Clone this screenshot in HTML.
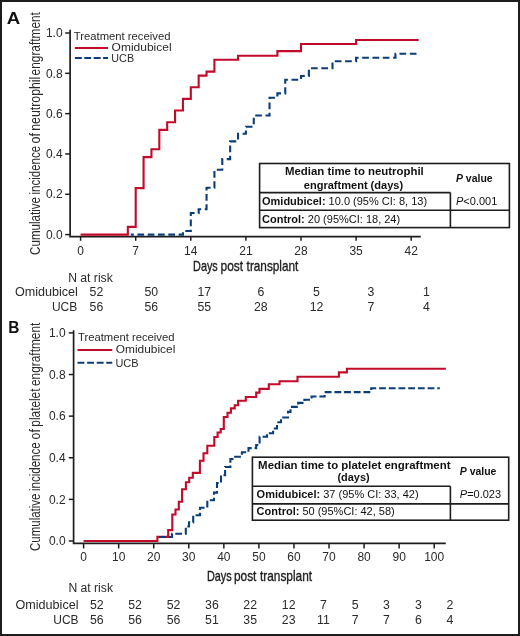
<!DOCTYPE html>
<html><head><meta charset="utf-8"><style>
html,body{margin:0;padding:0;background:#fff;}
body{width:520px;height:636px;overflow:hidden;font-family:"Liberation Sans",sans-serif;}
svg{display:block;will-change:transform;}
</style></head><body>
<svg width="520" height="636" viewBox="0 0 520 636" font-family="Liberation Sans, sans-serif">
<rect x="0" y="0" width="520" height="636" fill="#fff"/>
<rect x="1" y="1" width="518" height="634" fill="none" stroke="#1c1c1c" stroke-width="2"/>
<text x="6.84" y="23.8" font-size="16.5" font-weight="bold" textLength="13.46" lengthAdjust="spacingAndGlyphs" fill="#111">A</text>
<text transform="translate(39.9,254.3) rotate(-90)" x="-0.59" y="0" font-size="15.2" textLength="57.9" lengthAdjust="spacingAndGlyphs" fill="#2a2a2a">Cumulative</text>
<text transform="translate(39.9,193.7) rotate(-90)" x="-0.77" y="0" font-size="15.2" textLength="48.48" lengthAdjust="spacingAndGlyphs" fill="#2a2a2a">incidence</text>
<text transform="translate(39.9,142.9) rotate(-90)" x="-0.52" y="0" font-size="15.2" textLength="10.41" lengthAdjust="spacingAndGlyphs" fill="#2a2a2a">of</text>
<text transform="translate(39.9,130.0) rotate(-90)" x="-0.82" y="0" font-size="15.2" textLength="54.14" lengthAdjust="spacingAndGlyphs" fill="#2a2a2a">neutrophil</text>
<text transform="translate(39.9,74.9) rotate(-90)" x="-0.50" y="0" font-size="15.2" textLength="63.29" lengthAdjust="spacingAndGlyphs" fill="#2a2a2a">engraftment</text>
<path d="M70.1,29.8V236.6H420.8" fill="none" stroke="#1f1c1d" stroke-width="1.7"/>
<path d="M65.2,33.00H70.1" stroke="#1f1c1d" stroke-width="1.5"/>
<text x="62.6" y="37.2" font-size="12" text-anchor="end" fill="#2a2a2a">1.0</text>
<path d="M65.2,73.32H70.1" stroke="#1f1c1d" stroke-width="1.5"/>
<text x="62.6" y="77.52" font-size="12" text-anchor="end" fill="#2a2a2a">0.8</text>
<path d="M65.2,113.64H70.1" stroke="#1f1c1d" stroke-width="1.5"/>
<text x="62.6" y="117.84" font-size="12" text-anchor="end" fill="#2a2a2a">0.6</text>
<path d="M65.2,153.96H70.1" stroke="#1f1c1d" stroke-width="1.5"/>
<text x="62.6" y="158.16" font-size="12" text-anchor="end" fill="#2a2a2a">0.4</text>
<path d="M65.2,194.28H70.1" stroke="#1f1c1d" stroke-width="1.5"/>
<text x="62.6" y="198.48" font-size="12" text-anchor="end" fill="#2a2a2a">0.2</text>
<path d="M65.2,234.60H70.1" stroke="#1f1c1d" stroke-width="1.5"/>
<text x="62.6" y="238.8" font-size="12" text-anchor="end" fill="#2a2a2a">0.0</text>
<path d="M80.60,236.6V240.8" stroke="#1f1c1d" stroke-width="1.5"/>
<text x="80.6" y="254.6" font-size="12" text-anchor="middle" fill="#2a2a2a">0</text>
<path d="M135.70,236.6V240.8" stroke="#1f1c1d" stroke-width="1.5"/>
<text x="135.7" y="254.6" font-size="12" text-anchor="middle" fill="#2a2a2a">7</text>
<path d="M190.80,236.6V240.8" stroke="#1f1c1d" stroke-width="1.5"/>
<text x="190.8" y="254.6" font-size="12" text-anchor="middle" fill="#2a2a2a">14</text>
<path d="M245.90,236.6V240.8" stroke="#1f1c1d" stroke-width="1.5"/>
<text x="245.9" y="254.6" font-size="12" text-anchor="middle" fill="#2a2a2a">21</text>
<path d="M301.00,236.6V240.8" stroke="#1f1c1d" stroke-width="1.5"/>
<text x="301.0" y="254.6" font-size="12" text-anchor="middle" fill="#2a2a2a">28</text>
<path d="M356.10,236.6V240.8" stroke="#1f1c1d" stroke-width="1.5"/>
<text x="356.1" y="254.6" font-size="12" text-anchor="middle" fill="#2a2a2a">35</text>
<path d="M411.20,236.6V240.8" stroke="#1f1c1d" stroke-width="1.5"/>
<text x="411.2" y="254.6" font-size="12" text-anchor="middle" fill="#2a2a2a">42</text>
<text x="193.11" y="271.4" font-size="14.5" textLength="24.68" lengthAdjust="spacingAndGlyphs" fill="#1e1e1e" stroke="#1e1e1e" stroke-width="0.35">Days</text>
<text x="220.53" y="271.4" font-size="14.5" textLength="22.56" lengthAdjust="spacingAndGlyphs" fill="#1e1e1e" stroke="#1e1e1e" stroke-width="0.35">post</text>
<text x="246.62" y="271.4" font-size="14.5" textLength="51.76" lengthAdjust="spacingAndGlyphs" fill="#1e1e1e" stroke="#1e1e1e" stroke-width="0.35">transplant</text>
<path d="M130.80,234.60H182.93V231.00H190.80V213.00H198.67V209.30H206.54V187.80H214.41V169.80H222.29V159.10H230.16V141.40H238.03V133.80H245.90V126.70H253.77V115.50H269.51V97.80H277.39V93.40H285.26V79.70H301.00V76.00H308.87V68.30H332.49V61.20H356.10V57.70H395.46V53.80H418.80" fill="none" stroke="#0b3d78" stroke-width="2.1" stroke-dasharray="6.7 3.6" stroke-dashoffset="3.7"/>
<path d="M80.60,234.60H127.83V226.85H135.70V188.10H143.57V157.10H151.44V149.30H159.31V129.90H167.19V122.20H175.06V110.50H182.93V98.90H190.80V87.30H198.67V75.60H206.54V71.60H214.41V59.80H238.03V55.70H277.39V51.10H301.00V44.00H356.10V40.00H418.70" fill="none" stroke="#c20a2a" stroke-width="2.1"/>
<text x="73.75" y="40.1" font-size="11.3" textLength="96.68" lengthAdjust="spacingAndGlyphs" fill="#2a2a2a">Treatment received</text>
<path d="M74.9,48H108" stroke="#c20a2a" stroke-width="2.1"/>
<text x="111.63" y="50.9" font-size="11.3" textLength="59.97" lengthAdjust="spacingAndGlyphs" fill="#2a2a2a">Omidubicel</text>
<path d="M74.9,58H108" stroke="#0b3d78" stroke-width="2.1" stroke-dasharray="6.9 2.5"/>
<text x="111.37" y="61.6" font-size="11.3" textLength="22.7" lengthAdjust="spacingAndGlyphs" fill="#2a2a2a">UCB</text>
<g fill="none" stroke="#1f1c1d" stroke-width="1.6">
<rect x="259.6" y="163.5" width="249.8" height="64.1"/>
<path d="M259.6,192.6H450.4M259.6,210.3H509.4M450.4,192.6V227.6"/>
</g>
<text x="285.04" y="175" font-size="11" font-weight="bold" textLength="138.77" lengthAdjust="spacingAndGlyphs" fill="#111">Median time to neutrophil</text>
<text x="303.77" y="188.9" font-size="11" font-weight="bold" textLength="99.38" lengthAdjust="spacingAndGlyphs" fill="#111">engraftment (days)</text>
<text x="262" y="205.3" font-size="11" fill="#111"><tspan font-weight="bold">Omidubicel:</tspan> 10.0 (95% CI: 8, 13)</text>
<text x="262" y="222.6" font-size="11" fill="#111"><tspan font-weight="bold">Control:</tspan> 20 (95%CI: 18, 24)</text>
<text x="456" y="182.2" font-size="11" fill="#111" font-weight="bold" textLength="36.6" lengthAdjust="spacingAndGlyphs"><tspan font-style="italic">P</tspan> value</text>
<text x="456" y="204.7" font-size="11" fill="#111"><tspan font-style="italic">P</tspan>&lt;0.001</text>
<text x="68.2" y="281.6" font-size="12" textLength="44.6" lengthAdjust="spacingAndGlyphs" fill="#2a2a2a">N at risk</text>
<text x="14.9" y="296.3" font-size="12" textLength="63" lengthAdjust="spacingAndGlyphs" fill="#2a2a2a">Omidubicel</text>
<text x="77.3" y="311" font-size="12" text-anchor="end" fill="#2a2a2a">UCB</text>
<text x="96.4" y="296.4" font-size="12.3" text-anchor="middle" fill="#2a2a2a">52</text>
<text x="96.4" y="311" font-size="12.3" text-anchor="middle" fill="#2a2a2a">56</text>
<text x="151.3" y="296.4" font-size="12.3" text-anchor="middle" fill="#2a2a2a">50</text>
<text x="151.3" y="311" font-size="12.3" text-anchor="middle" fill="#2a2a2a">56</text>
<text x="204.3" y="296.4" font-size="12.3" text-anchor="middle" fill="#2a2a2a">17</text>
<text x="204.3" y="311" font-size="12.3" text-anchor="middle" fill="#2a2a2a">55</text>
<text x="260.8" y="296.4" font-size="12.3" text-anchor="middle" fill="#2a2a2a">6</text>
<text x="260.8" y="311" font-size="12.3" text-anchor="middle" fill="#2a2a2a">28</text>
<text x="316.5" y="296.4" font-size="12.3" text-anchor="middle" fill="#2a2a2a">5</text>
<text x="316.5" y="311" font-size="12.3" text-anchor="middle" fill="#2a2a2a">12</text>
<text x="370.8" y="296.4" font-size="12.3" text-anchor="middle" fill="#2a2a2a">3</text>
<text x="370.8" y="311" font-size="12.3" text-anchor="middle" fill="#2a2a2a">7</text>
<text x="426.4" y="296.4" font-size="12.3" text-anchor="middle" fill="#2a2a2a">1</text>
<text x="426.4" y="311" font-size="12.3" text-anchor="middle" fill="#2a2a2a">4</text>
<text x="8.37" y="333.0" font-size="16.5" font-weight="bold" textLength="11.13" lengthAdjust="spacingAndGlyphs" fill="#111">B</text>
<text transform="translate(39.8,550.5) rotate(-90)" x="-0.58" y="0" font-size="15.2" textLength="57.6" lengthAdjust="spacingAndGlyphs" fill="#2a2a2a">Cumulative</text>
<text transform="translate(39.8,490.3) rotate(-90)" x="-0.77" y="0" font-size="15.2" textLength="48.68" lengthAdjust="spacingAndGlyphs" fill="#2a2a2a">incidence</text>
<text transform="translate(39.8,438.9) rotate(-90)" x="-0.51" y="0" font-size="15.2" textLength="10.2" lengthAdjust="spacingAndGlyphs" fill="#2a2a2a">of</text>
<text transform="translate(39.8,425.9) rotate(-90)" x="-0.76" y="0" font-size="15.2" textLength="38.15" lengthAdjust="spacingAndGlyphs" fill="#2a2a2a">platelet</text>
<text transform="translate(39.8,385.6) rotate(-90)" x="-0.51" y="0" font-size="15.2" textLength="63.49" lengthAdjust="spacingAndGlyphs" fill="#2a2a2a">engraftment</text>
<path d="M73.6,330.3V543.4H445.8" fill="none" stroke="#1f1c1d" stroke-width="1.7"/>
<path d="M68.8,332.90H73.6" stroke="#1f1c1d" stroke-width="1.5"/>
<text x="65.6" y="337.1" font-size="12" text-anchor="end" fill="#2a2a2a">1.0</text>
<path d="M68.8,374.52H73.6" stroke="#1f1c1d" stroke-width="1.5"/>
<text x="65.6" y="378.72" font-size="12" text-anchor="end" fill="#2a2a2a">0.8</text>
<path d="M68.8,416.14H73.6" stroke="#1f1c1d" stroke-width="1.5"/>
<text x="65.6" y="420.34" font-size="12" text-anchor="end" fill="#2a2a2a">0.6</text>
<path d="M68.8,457.76H73.6" stroke="#1f1c1d" stroke-width="1.5"/>
<text x="65.6" y="461.96" font-size="12" text-anchor="end" fill="#2a2a2a">0.4</text>
<path d="M68.8,499.38H73.6" stroke="#1f1c1d" stroke-width="1.5"/>
<text x="65.6" y="503.58" font-size="12" text-anchor="end" fill="#2a2a2a">0.2</text>
<path d="M68.8,541.00H73.6" stroke="#1f1c1d" stroke-width="1.5"/>
<text x="65.6" y="545.2" font-size="12" text-anchor="end" fill="#2a2a2a">0.0</text>
<path d="M83.60,543.4V548.5" stroke="#1f1c1d" stroke-width="1.5"/>
<text x="83.6" y="561" font-size="12" text-anchor="middle" fill="#2a2a2a">0</text>
<path d="M118.66,543.4V548.5" stroke="#1f1c1d" stroke-width="1.5"/>
<text x="118.66" y="561" font-size="12" text-anchor="middle" fill="#2a2a2a">10</text>
<path d="M153.72,543.4V548.5" stroke="#1f1c1d" stroke-width="1.5"/>
<text x="153.72" y="561" font-size="12" text-anchor="middle" fill="#2a2a2a">20</text>
<path d="M188.78,543.4V548.5" stroke="#1f1c1d" stroke-width="1.5"/>
<text x="188.78" y="561" font-size="12" text-anchor="middle" fill="#2a2a2a">30</text>
<path d="M223.84,543.4V548.5" stroke="#1f1c1d" stroke-width="1.5"/>
<text x="223.84" y="561" font-size="12" text-anchor="middle" fill="#2a2a2a">40</text>
<path d="M258.90,543.4V548.5" stroke="#1f1c1d" stroke-width="1.5"/>
<text x="258.9" y="561" font-size="12" text-anchor="middle" fill="#2a2a2a">50</text>
<path d="M293.96,543.4V548.5" stroke="#1f1c1d" stroke-width="1.5"/>
<text x="293.96" y="561" font-size="12" text-anchor="middle" fill="#2a2a2a">60</text>
<path d="M329.02,543.4V548.5" stroke="#1f1c1d" stroke-width="1.5"/>
<text x="329.02" y="561" font-size="12" text-anchor="middle" fill="#2a2a2a">70</text>
<path d="M364.08,543.4V548.5" stroke="#1f1c1d" stroke-width="1.5"/>
<text x="364.08" y="561" font-size="12" text-anchor="middle" fill="#2a2a2a">80</text>
<path d="M399.14,543.4V548.5" stroke="#1f1c1d" stroke-width="1.5"/>
<text x="399.14" y="561" font-size="12" text-anchor="middle" fill="#2a2a2a">90</text>
<path d="M434.20,543.4V548.5" stroke="#1f1c1d" stroke-width="1.5"/>
<text x="434.2" y="561" font-size="12" text-anchor="middle" fill="#2a2a2a">100</text>
<text x="206.91" y="581" font-size="14.5" textLength="24.79" lengthAdjust="spacingAndGlyphs" fill="#1e1e1e" stroke="#1e1e1e" stroke-width="0.35">Days</text>
<text x="233.93" y="581" font-size="14.5" textLength="22.45" lengthAdjust="spacingAndGlyphs" fill="#1e1e1e" stroke="#1e1e1e" stroke-width="0.35">post</text>
<text x="259.92" y="581" font-size="14.5" textLength="52.17" lengthAdjust="spacingAndGlyphs" fill="#1e1e1e" stroke="#1e1e1e" stroke-width="0.35">transplant</text>
<path d="M83.60,541.00H157.40V536.90H168.20V530.10H172.30V514.50H175.50V509.50H178.80V501.70H182.10V489.20H185.90V482.20H189.20V477.70H192.80V472.90H199.90V460.80H203.50V453.20H207.30V445.70H214.30V437.00H217.60V432.50H220.70V429.00H223.80V417.00H227.50V412.70H230.90V408.40H234.70V405.20H238.10V400.70H245.80V397.00H256.20V392.60H259.50V388.90H268.80V384.30H279.50V381.20H297.50V376.70H338.90V372.40H346.90V368.70H445.90" fill="none" stroke="#c20a2a" stroke-width="2.1"/>
<path d="M157.40,537.00H172.00V533.70H185.80V526.40H189.00V522.40H193.20V515.20H200.00V507.70H207.30V500.30H214.00V492.60H217.00V483.00H221.00V475.20H225.10V467.00H230.40V459.00H233.90V456.70H241.90V452.30H248.50V448.10H256.20V445.00H259.60V436.70H267.00V433.20H273.10V428.50H277.00V422.30H281.00V417.50H288.00V411.90H290.50V406.90H298.20V402.90H304.40V399.70H311.60V396.50H324.60V392.10H371.20V388.30H439.80" fill="none" stroke="#0b3d78" stroke-width="2.1" stroke-dasharray="6.8 2.9" stroke-dashoffset="7.9"/>
<text x="77.95" y="340.8" font-size="11.3" textLength="96.57" lengthAdjust="spacingAndGlyphs" fill="#2a2a2a">Treatment received</text>
<path d="M77.5,350H112.3" stroke="#c20a2a" stroke-width="2.1"/>
<text x="115.74" y="353.4" font-size="11.3" textLength="59.56" lengthAdjust="spacingAndGlyphs" fill="#2a2a2a">Omidubicel</text>
<path d="M77.5,362.8H112.3" stroke="#0b3d78" stroke-width="2.1" stroke-dasharray="6.9 2.7"/>
<text x="115.46" y="366.6" font-size="11.3" textLength="23.12" lengthAdjust="spacingAndGlyphs" fill="#2a2a2a">UCB</text>
<g fill="none" stroke="#1f1c1d" stroke-width="1.6">
<rect x="252.4" y="457.2" width="256.3" height="63"/>
<path d="M252.4,486.3H450.4M252.4,503.9H508.7M450.4,486.3V520.2"/>
</g>
<text x="258.14" y="468.8" font-size="11" font-weight="bold" textLength="192.4" lengthAdjust="spacingAndGlyphs" fill="#111">Median time to platelet engraftment</text>
<text x="337.46" y="481" font-size="11" font-weight="bold" textLength="32.19" lengthAdjust="spacingAndGlyphs" fill="#111">(days)</text>
<text x="256.6" y="498.3" font-size="11" fill="#111"><tspan font-weight="bold">Omidubicel:</tspan> 37 (95% CI: 33, 42)</text>
<text x="256.6" y="514.6" font-size="11" fill="#111"><tspan font-weight="bold">Control:</tspan> 50 (95%CI: 42, 58)</text>
<text x="459.8" y="475.1" font-size="11" fill="#111" font-weight="bold" textLength="36.6" lengthAdjust="spacingAndGlyphs"><tspan font-style="italic">P</tspan> value</text>
<text x="459.8" y="497.6" font-size="11" fill="#111"><tspan font-style="italic">P</tspan>=0.023</text>
<text x="68.4" y="592" font-size="12" textLength="44.6" lengthAdjust="spacingAndGlyphs" fill="#2a2a2a">N at risk</text>
<text x="15.5" y="608.5" font-size="12" textLength="63" lengthAdjust="spacingAndGlyphs" fill="#2a2a2a">Omidubicel</text>
<text x="78.6" y="623.8" font-size="12" text-anchor="end" fill="#2a2a2a">UCB</text>
<text x="96.8" y="608.6" font-size="12.3" text-anchor="middle" fill="#2a2a2a">52</text>
<text x="96.8" y="623.9" font-size="12.3" text-anchor="middle" fill="#2a2a2a">56</text>
<text x="135" y="608.6" font-size="12.3" text-anchor="middle" fill="#2a2a2a">52</text>
<text x="135" y="623.9" font-size="12.3" text-anchor="middle" fill="#2a2a2a">56</text>
<text x="173.5" y="608.6" font-size="12.3" text-anchor="middle" fill="#2a2a2a">52</text>
<text x="173.5" y="623.9" font-size="12.3" text-anchor="middle" fill="#2a2a2a">56</text>
<text x="211.9" y="608.6" font-size="12.3" text-anchor="middle" fill="#2a2a2a">36</text>
<text x="211.9" y="623.9" font-size="12.3" text-anchor="middle" fill="#2a2a2a">51</text>
<text x="250.2" y="608.6" font-size="12.3" text-anchor="middle" fill="#2a2a2a">22</text>
<text x="250.2" y="623.9" font-size="12.3" text-anchor="middle" fill="#2a2a2a">35</text>
<text x="288.7" y="608.6" font-size="12.3" text-anchor="middle" fill="#2a2a2a">12</text>
<text x="288.7" y="623.9" font-size="12.3" text-anchor="middle" fill="#2a2a2a">23</text>
<text x="323.5" y="608.6" font-size="12.3" text-anchor="middle" fill="#2a2a2a">7</text>
<text x="323.5" y="623.9" font-size="12.3" text-anchor="middle" fill="#2a2a2a">11</text>
<text x="355.2" y="608.6" font-size="12.3" text-anchor="middle" fill="#2a2a2a">5</text>
<text x="355.2" y="623.9" font-size="12.3" text-anchor="middle" fill="#2a2a2a">7</text>
<text x="386.3" y="608.6" font-size="12.3" text-anchor="middle" fill="#2a2a2a">3</text>
<text x="386.3" y="623.9" font-size="12.3" text-anchor="middle" fill="#2a2a2a">7</text>
<text x="418.4" y="608.6" font-size="12.3" text-anchor="middle" fill="#2a2a2a">3</text>
<text x="418.4" y="623.9" font-size="12.3" text-anchor="middle" fill="#2a2a2a">6</text>
<text x="450" y="608.6" font-size="12.3" text-anchor="middle" fill="#2a2a2a">2</text>
<text x="450" y="623.9" font-size="12.3" text-anchor="middle" fill="#2a2a2a">4</text>
</svg>
</body></html>
